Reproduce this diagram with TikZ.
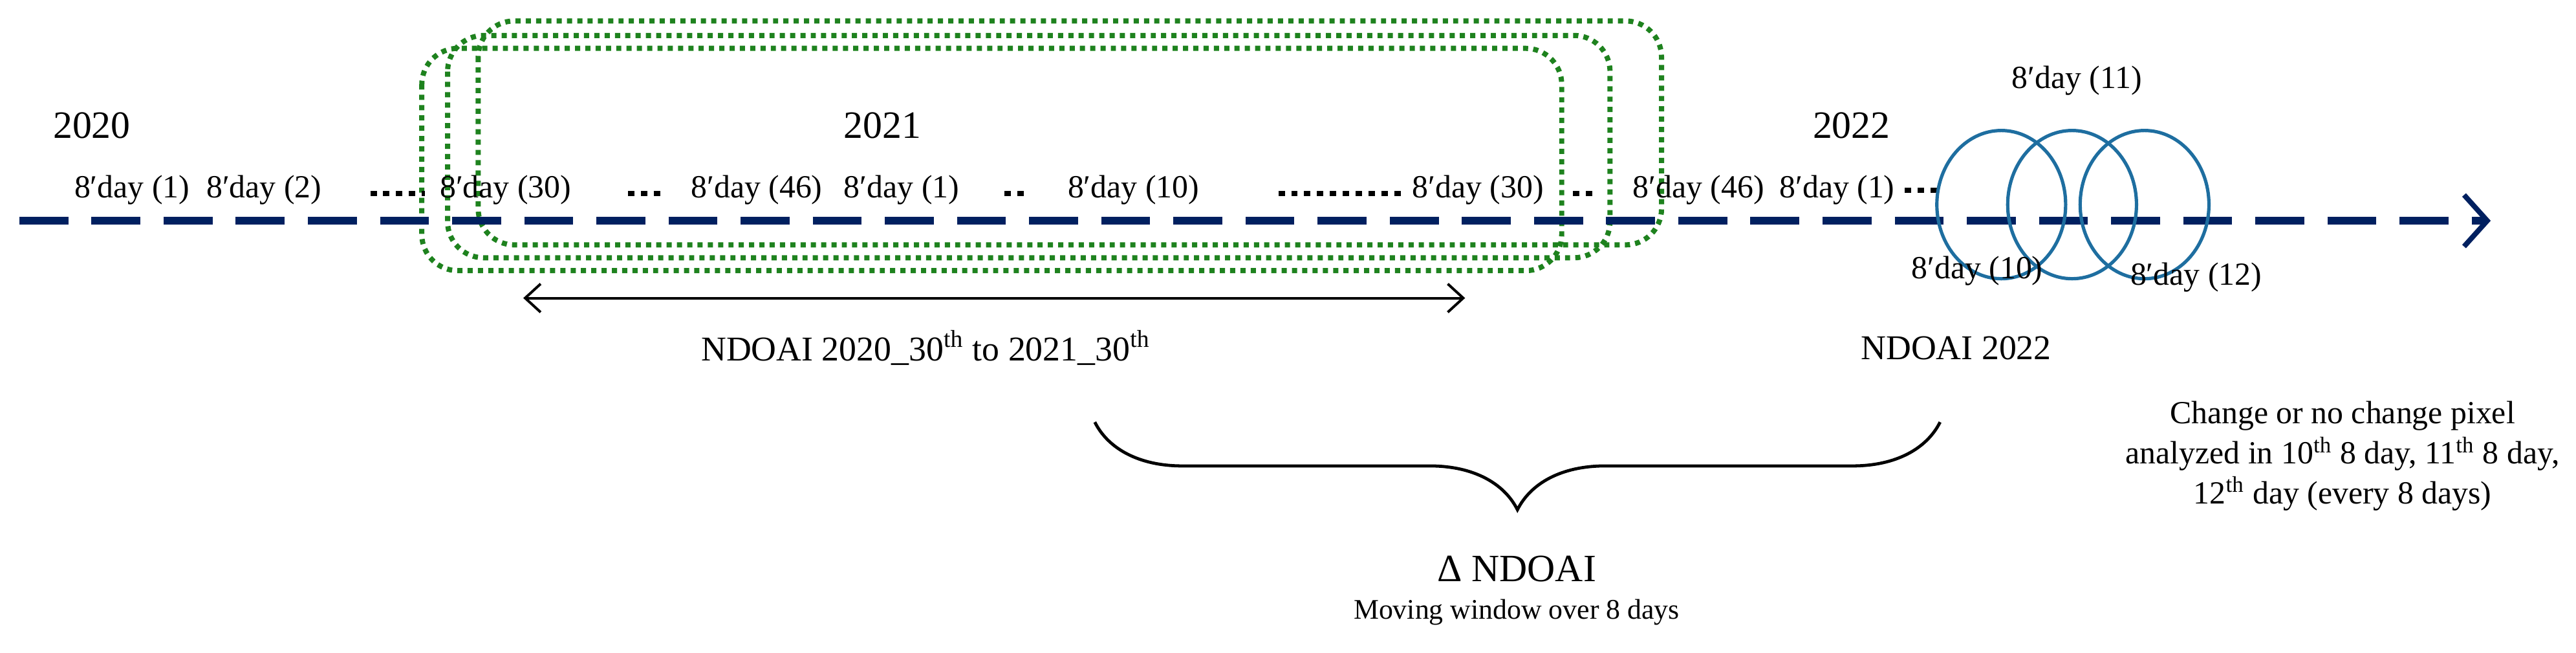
\documentclass[tikz,border=0pt]{standalone}
\usepackage{fontspec}
\setmainfont{Liberation Serif}
\usetikzlibrary{arrows.meta,decorations.pathreplacing,shapes.geometric}
\definecolor{navy}{RGB}{0,32,96}
\definecolor{grn}{RGB}{30,130,30}
\definecolor{blu}{RGB}{30,110,160}
\begin{document}
\begin{tikzpicture}[x=0.625pt,y=-0.625pt,
  day/.style={font=\fontsize{12.5}{14}\selectfont,inner sep=0pt},
  yr/.style={font=\fontsize{15}{18}\selectfont,inner sep=0pt},
  lbl/.style={font=\fontsize{13.5}{16}\selectfont,inner sep=0pt,align=center},
  win/.style={draw=grn,line width=2pt,dash pattern=on 2pt off 2pt,rounded corners=14pt},
  circ/.style={draw=blu,line width=1.3pt,ellipse,minimum width=80*0.625pt,minimum height=92*0.625pt,inner sep=0pt},
  dts/.style={line width=2pt,dash pattern=on 2.5pt off 2.5pt}]
\useasboundingbox (0,0) rectangle (1600,405);
% green windows
\draw[win] (262,30) rectangle (970,168);
\draw[win] (278,22) rectangle (1000,160);
\draw[win] (297,13) rectangle (1032,152);
% axis
\coordinate (a0) at (12,137);
\coordinate (a1) at (1547,137);
\draw[navy,line width=3.2pt,dash pattern=on 19pt off 9pt,-{Straight Barb[length=9pt,width=20pt,line width=2pt]}] (a0) -- (a1);
% years
\node[yr] (y20) at (57,78) {2020};
\node[yr] (y21) at (548,78) {2021};
\node[yr] (y22) at (1150,78) {2022};
% day labels
\node[day] (d1) at (82,118) {8′day (1)};
\node[day] (d2) at (164,118) {8′day (2)};
\node[day] (d3) at (314,118) {8′day (30)};
\node[day] (d4) at (470,118) {8′day (46)};
\node[day] (d5) at (560,118) {8′day (1)};
\node[day] (d6) at (704,118) {8′day (10)};
\node[day] (d7) at (918,118) {8′day (30)};
\node[day] (d8) at (1055,118) {8′day (46)};
\node[day] (d9) at (1141,118) {8′day (1)};
% dotted separators
\coordinate (s1a) at (230,120); \coordinate (s1b) at (264,120);
\coordinate (s2a) at (390,120); \coordinate (s2b) at (411,120);
\coordinate (s3a) at (624,120); \coordinate (s3b) at (638,120);
\coordinate (s4a) at (794,120); \coordinate (s4b) at (872,120);
\coordinate (s5a) at (977,120); \coordinate (s5b) at (991,120);
\coordinate (s6a) at (1183,118); \coordinate (s6b) at (1203,118);
\foreach \p in {1,...,6}{\draw[dts] (s\p a) -- (s\p b);}
% circles
\node[circ] (c1) at (1243,127) {};
\node[circ] (c2) at (1287,127) {};
\node[circ] (c3) at (1332,127) {};
\node[day] (c11) at (1290,50) {8′day (11)};
\node[day] (c10) at (1228,168) {8′day (10)};
\node[day] (c12) at (1364,172) {8′day (12)};
% double arrow
\coordinate (da) at (325,185);
\coordinate (db) at (910,185);
\draw[line width=1pt,{Straight Barb[length=6pt,width=11pt]}-{Straight Barb[length=6pt,width=11pt]}] (da) -- (db);
\node[lbl] (n1) at (575,216) {NDOAI 2020\_30\textsuperscript{th} to 2021\_30\textsuperscript{th}};
\node[lbl] (n2) at (1215,216) {NDOAI 2022};
\node[lbl,font=\fontsize{12.5}{15.5}\selectfont] (n3) at (1455,283) {Change or no change pixel\\analyzed in 10\textsuperscript{th} 8 day, 11\textsuperscript{th} 8 day,\\12\textsuperscript{th} day (every 8 days)};
% brace
\coordinate (ba) at (1205,262);
\coordinate (bb) at (680,262);
\draw[line width=1.2pt,decorate,decoration={brace,amplitude=34pt}] (ba) -- (bb);
\node[lbl,font=\fontsize{15}{18}\selectfont] (dn) at (942,353) {Δ NDOAI};
\node[lbl,font=\fontsize{11}{13}\selectfont] (mw) at (942,380) {Moving window over 8 days};
\end{tikzpicture}
\end{document}
